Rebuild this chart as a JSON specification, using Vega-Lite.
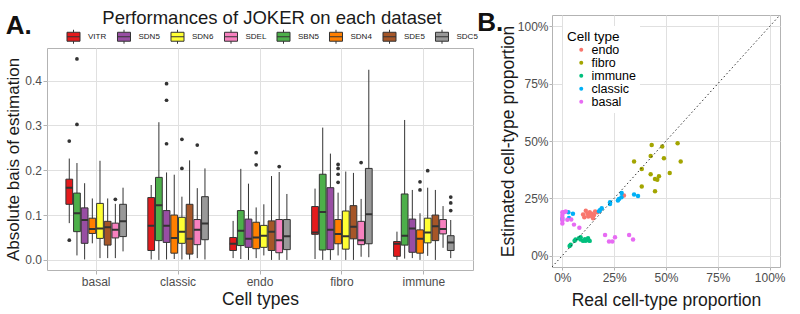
{
  "$schema": "https://vega.github.io/schema/vega-lite/v6.json",
  "padding": {"left": 4, "top": 8, "right": 10, "bottom": 4},
  "spacing": -3,
  "resolve": {"scale": {"color": "independent", "x": "independent", "y": "independent"}, "legend": {"color": "independent"}},
  "config": {
    "font": "Liberation Sans",
    "view": {"stroke": "#b3b3b3", "strokeWidth": 1},
    "axis": {
      "domain": false,
      "gridColor": "#e0e0e0",
      "tickColor": "#b3b3b3",
      "labelColor": "#4d4d4d",
      "labelFont": "Liberation Sans",
      "labelFontSize": 12,
      "titleFont": "Liberation Sans",
      "titleFontSize": 17.5,
      "titleFontWeight": "normal",
      "titleColor": "#1a1a1a"
    },
    "legend": {"labelFont": "Liberation Sans", "titleFont": "Liberation Sans"},
    "title": {"font": "Liberation Sans"}
  },
  "datasets": {
    "boxes": [
      {"cell": "basal", "dataset": "VITR", "lower": 0.082, "q1": 0.124, "median": 0.161, "q3": 0.18, "upper": 0.226},
      {"cell": "basal", "dataset": "SBN5", "lower": 0.01, "q1": 0.063, "median": 0.104, "q3": 0.149, "upper": 0.216},
      {"cell": "basal", "dataset": "SDN5", "lower": 0.001, "q1": 0.037, "median": 0.089, "q3": 0.116, "upper": 0.171},
      {"cell": "basal", "dataset": "SDN4", "lower": 0.037, "q1": 0.059, "median": 0.069, "q3": 0.093, "upper": 0.137},
      {"cell": "basal", "dataset": "SDN6", "lower": 0.004, "q1": 0.048, "median": 0.07, "q3": 0.126, "upper": 0.221},
      {"cell": "basal", "dataset": "SDE5", "lower": 0.004, "q1": 0.033, "median": 0.073, "q3": 0.086, "upper": 0.137},
      {"cell": "basal", "dataset": "SDEL", "lower": 0.004, "q1": 0.049, "median": 0.067, "q3": 0.082, "upper": 0.125},
      {"cell": "basal", "dataset": "SDC5", "lower": 0.019, "q1": 0.052, "median": 0.086, "q3": 0.124, "upper": 0.161},
      {"cell": "classic", "dataset": "VITR", "lower": 0.001, "q1": 0.021, "median": 0.076, "q3": 0.139, "upper": 0.167},
      {"cell": "classic", "dataset": "SBN5", "lower": 0.0, "q1": 0.043, "median": 0.122, "q3": 0.184, "upper": 0.307},
      {"cell": "classic", "dataset": "SDN5", "lower": 0.001, "q1": 0.039, "median": 0.076, "q3": 0.11, "upper": 0.195},
      {"cell": "classic", "dataset": "SDN4", "lower": 0.002, "q1": 0.015, "median": 0.049, "q3": 0.1, "upper": 0.19},
      {"cell": "classic", "dataset": "SDN6", "lower": 0.001, "q1": 0.037, "median": 0.063, "q3": 0.095, "upper": 0.141},
      {"cell": "classic", "dataset": "SDE5", "lower": 0.001, "q1": 0.013, "median": 0.047, "q3": 0.124, "upper": 0.222},
      {"cell": "classic", "dataset": "SDEL", "lower": 0.004, "q1": 0.034, "median": 0.067, "q3": 0.09, "upper": 0.16},
      {"cell": "classic", "dataset": "SDC5", "lower": 0.001, "q1": 0.045, "median": 0.081, "q3": 0.141, "upper": 0.204},
      {"cell": "endo", "dataset": "VITR", "lower": 0.004, "q1": 0.021, "median": 0.036, "q3": 0.05, "upper": 0.087},
      {"cell": "endo", "dataset": "SBN5", "lower": 0.002, "q1": 0.032, "median": 0.065, "q3": 0.11, "upper": 0.203},
      {"cell": "endo", "dataset": "SDN5", "lower": 0.0, "q1": 0.028, "median": 0.047, "q3": 0.091, "upper": 0.17},
      {"cell": "endo", "dataset": "SDN4", "lower": 0.004, "q1": 0.025, "median": 0.05, "q3": 0.084, "upper": 0.117},
      {"cell": "endo", "dataset": "SDN6", "lower": 0.01, "q1": 0.028, "median": 0.054, "q3": 0.077, "upper": 0.124},
      {"cell": "endo", "dataset": "SDE5", "lower": 0.0, "q1": 0.021, "median": 0.063, "q3": 0.087, "upper": 0.187},
      {"cell": "endo", "dataset": "SDEL", "lower": 0.0, "q1": 0.016, "median": 0.044, "q3": 0.09, "upper": 0.196},
      {"cell": "endo", "dataset": "SDC5", "lower": 0.0, "q1": 0.023, "median": 0.053, "q3": 0.09, "upper": 0.147},
      {"cell": "fibro", "dataset": "VITR", "lower": 0.002, "q1": 0.057, "median": 0.061, "q3": 0.119, "upper": 0.159},
      {"cell": "fibro", "dataset": "SBN5", "lower": 0.0, "q1": 0.022, "median": 0.107, "q3": 0.191, "upper": 0.295},
      {"cell": "fibro", "dataset": "SDN5", "lower": 0.0, "q1": 0.023, "median": 0.067, "q3": 0.161, "upper": 0.237},
      {"cell": "fibro", "dataset": "SDN4", "lower": 0.01, "q1": 0.036, "median": 0.058, "q3": 0.09, "upper": 0.15},
      {"cell": "fibro", "dataset": "SDN6", "lower": 0.0, "q1": 0.024, "median": 0.053, "q3": 0.109, "upper": 0.197},
      {"cell": "fibro", "dataset": "SDE5", "lower": 0.0, "q1": 0.047, "median": 0.074, "q3": 0.121, "upper": 0.194},
      {"cell": "fibro", "dataset": "SDEL", "lower": 0.007, "q1": 0.034, "median": 0.044, "q3": 0.086, "upper": 0.136},
      {"cell": "fibro", "dataset": "SDC5", "lower": 0.006, "q1": 0.036, "median": 0.102, "q3": 0.204, "upper": 0.424},
      {"cell": "immune", "dataset": "VITR", "lower": 0.0, "q1": 0.008, "median": 0.036, "q3": 0.041, "upper": 0.063},
      {"cell": "immune", "dataset": "SBN5", "lower": 0.003, "q1": 0.033, "median": 0.054, "q3": 0.147, "upper": 0.312},
      {"cell": "immune", "dataset": "SDN5", "lower": 0.004, "q1": 0.017, "median": 0.07, "q3": 0.091, "upper": 0.156},
      {"cell": "immune", "dataset": "SDN4", "lower": 0.0, "q1": 0.015, "median": 0.047, "q3": 0.067, "upper": 0.104},
      {"cell": "immune", "dataset": "SDN6", "lower": 0.009, "q1": 0.038, "median": 0.061, "q3": 0.093, "upper": 0.161},
      {"cell": "immune", "dataset": "SDE5", "lower": 0.0, "q1": 0.043, "median": 0.075, "q3": 0.1, "upper": 0.156},
      {"cell": "immune", "dataset": "SDEL", "lower": 0.027, "q1": 0.058, "median": 0.069, "q3": 0.09, "upper": 0.12},
      {"cell": "immune", "dataset": "SDC5", "lower": 0.004, "q1": 0.021, "median": 0.039, "q3": 0.054, "upper": 0.089}
    ],
    "outliers": [
      {"cell": "basal", "dataset": "VITR", "value": 0.265},
      {"cell": "basal", "dataset": "VITR", "value": 0.044},
      {"cell": "basal", "dataset": "SBN5", "value": 0.302},
      {"cell": "basal", "dataset": "SBN5", "value": 0.448},
      {"cell": "basal", "dataset": "SDEL", "value": 0.135},
      {"cell": "classic", "dataset": "SDN5", "value": 0.393},
      {"cell": "classic", "dataset": "SDN5", "value": 0.356},
      {"cell": "classic", "dataset": "SDN5", "value": 0.259},
      {"cell": "classic", "dataset": "SDN6", "value": 0.269},
      {"cell": "classic", "dataset": "SDN6", "value": 0.204},
      {"cell": "classic", "dataset": "SDEL", "value": 0.256},
      {"cell": "endo", "dataset": "SDN4", "value": 0.239},
      {"cell": "endo", "dataset": "SDN4", "value": 0.212},
      {"cell": "endo", "dataset": "SDEL", "value": 0.208},
      {"cell": "fibro", "dataset": "SDN4", "value": 0.213},
      {"cell": "fibro", "dataset": "SDN4", "value": 0.204},
      {"cell": "fibro", "dataset": "SDN4", "value": 0.191},
      {"cell": "fibro", "dataset": "SDN4", "value": 0.173},
      {"cell": "fibro", "dataset": "SDEL", "value": 0.217},
      {"cell": "immune", "dataset": "SDN4", "value": 0.174},
      {"cell": "immune", "dataset": "SDN4", "value": 0.156},
      {"cell": "immune", "dataset": "SDN6", "value": 0.199},
      {"cell": "immune", "dataset": "SDC5", "value": 0.14},
      {"cell": "immune", "dataset": "SDC5", "value": 0.127},
      {"cell": "immune", "dataset": "SDC5", "value": 0.11}
    ],
    "props": [
      {"type": "endo", "real": 0.297, "estimated": 0.262},
      {"type": "endo", "real": 0.169, "estimated": 0.189},
      {"type": "endo", "real": 0.158, "estimated": 0.192},
      {"type": "endo", "real": 0.113, "estimated": 0.196},
      {"type": "endo", "real": 0.132, "estimated": 0.189},
      {"type": "endo", "real": 0.141, "estimated": 0.182},
      {"type": "endo", "real": 0.121, "estimated": 0.182},
      {"type": "endo", "real": 0.1, "estimated": 0.179},
      {"type": "endo", "real": 0.153, "estimated": 0.177},
      {"type": "endo", "real": 0.125, "estimated": 0.17},
      {"type": "endo", "real": 0.106, "estimated": 0.167},
      {"type": "endo", "real": 0.148, "estimated": 0.163},
      {"type": "endo", "real": 0.137, "estimated": 0.174},
      {"type": "fibro", "real": 0.431, "estimated": 0.483},
      {"type": "fibro", "real": 0.482, "estimated": 0.476},
      {"type": "fibro", "real": 0.556, "estimated": 0.49},
      {"type": "fibro", "real": 0.426, "estimated": 0.435},
      {"type": "fibro", "real": 0.49, "estimated": 0.425},
      {"type": "fibro", "real": 0.346, "estimated": 0.411},
      {"type": "fibro", "real": 0.571, "estimated": 0.411},
      {"type": "fibro", "real": 0.383, "estimated": 0.378},
      {"type": "fibro", "real": 0.426, "estimated": 0.355},
      {"type": "fibro", "real": 0.466, "estimated": 0.346},
      {"type": "fibro", "real": 0.447, "estimated": 0.334},
      {"type": "fibro", "real": 0.458, "estimated": 0.331},
      {"type": "fibro", "real": 0.518, "estimated": 0.36},
      {"type": "fibro", "real": 0.383, "estimated": 0.301},
      {"type": "fibro", "real": 0.447, "estimated": 0.281},
      {"type": "immune", "real": 0.04, "estimated": 0.047},
      {"type": "immune", "real": 0.035, "estimated": 0.042},
      {"type": "immune", "real": 0.059, "estimated": 0.065},
      {"type": "immune", "real": 0.064, "estimated": 0.07},
      {"type": "immune", "real": 0.088, "estimated": 0.08},
      {"type": "immune", "real": 0.088, "estimated": 0.07},
      {"type": "immune", "real": 0.1, "estimated": 0.064},
      {"type": "immune", "real": 0.113, "estimated": 0.065},
      {"type": "immune", "real": 0.124, "estimated": 0.076},
      {"type": "immune", "real": 0.124, "estimated": 0.068},
      {"type": "immune", "real": 0.132, "estimated": 0.064},
      {"type": "immune", "real": 0.109, "estimated": 0.071},
      {"type": "immune", "real": 0.08, "estimated": 0.076},
      {"type": "classic", "real": 0.286, "estimated": 0.273},
      {"type": "classic", "real": 0.285, "estimated": 0.254},
      {"type": "classic", "real": 0.273, "estimated": 0.247},
      {"type": "classic", "real": 0.268, "estimated": 0.24},
      {"type": "classic", "real": 0.346, "estimated": 0.266},
      {"type": "classic", "real": 0.365, "estimated": 0.26},
      {"type": "classic", "real": 0.23, "estimated": 0.233},
      {"type": "classic", "real": 0.23, "estimated": 0.225},
      {"type": "classic", "real": 0.19, "estimated": 0.206},
      {"type": "classic", "real": 0.182, "estimated": 0.199},
      {"type": "classic", "real": 0.177, "estimated": 0.193},
      {"type": "classic", "real": 0.029, "estimated": 0.189},
      {"type": "classic", "real": 0.051, "estimated": 0.182},
      {"type": "classic", "real": 0.032, "estimated": 0.164},
      {"type": "classic", "real": 0.0, "estimated": 0.16},
      {"type": "basal", "real": 0.0, "estimated": 0.189},
      {"type": "basal", "real": 0.008, "estimated": 0.189},
      {"type": "basal", "real": 0.0, "estimated": 0.177},
      {"type": "basal", "real": 0.0, "estimated": 0.167},
      {"type": "basal", "real": 0.0, "estimated": 0.153},
      {"type": "basal", "real": 0.0, "estimated": 0.14},
      {"type": "basal", "real": 0.016, "estimated": 0.192},
      {"type": "basal", "real": 0.024, "estimated": 0.156},
      {"type": "basal", "real": 0.043, "estimated": 0.157},
      {"type": "basal", "real": 0.056, "estimated": 0.135},
      {"type": "basal", "real": 0.082, "estimated": 0.121},
      {"type": "basal", "real": 0.206, "estimated": 0.09},
      {"type": "basal", "real": 0.225, "estimated": 0.061},
      {"type": "basal", "real": 0.241, "estimated": 0.061},
      {"type": "basal", "real": 0.254, "estimated": 0.08},
      {"type": "basal", "real": 0.322, "estimated": 0.09},
      {"type": "basal", "real": 0.341, "estimated": 0.07}
    ],
    "diag": [{"x": -0.05, "y": -0.05, "x2": 1.05, "y2": 1.05}],
    "blank": []
  },
  "hconcat": [
    {
      "spacing": -9,
      "resolve": {"scale": {"color": "independent"}, "legend": {"color": "independent"}},
      "vconcat": [
        {
          "width": 1,
          "height": 1,
          "data": {"name": "blank"},
          "mark": {"type": "point"},
          "view": {"stroke": "transparent"}
        },
        {
          "width": 426,
          "height": 222,
          "title": {"text": "A.", "anchor": "start", "frame": "bounds", "offset": -30, "dx": 1, "fontSize": 26, "fontWeight": "bold", "color": "#111111"},
          "encoding": {
            "x": {
              "field": "cell", "type": "nominal", "title": "Cell types",
              "scale": {"domain": ["basal", "classic", "endo", "fibro", "immune"], "paddingInner": 0.25, "paddingOuter": 0.225},
              "axis": {"labelAngle": 0, "bandPosition": 0.5, "grid": true, "gridWidth": 1, "tickSize": 4, "labelPadding": 2, "titlePadding": 3}
            },
            "xOffset": {
              "field": "dataset", "type": "nominal",
              "scale": {"domain": ["VITR", "SBN5", "SDN5", "SDN4", "SDN6", "SDE5", "SDEL", "SDC5"], "paddingInner": 0.12, "paddingOuter": 0.06}
            }
          },
          "layer": [
            {
              "data": {"name": "boxes"},
              "mark": {"type": "rule", "color": "#333333", "strokeWidth": 1},
              "encoding": {
                "y": {
                  "field": "lower", "type": "quantitative", "title": "Absolute bais of estimation",
                  "scale": {"domain": [-0.0225, 0.4725], "nice": false, "zero": false},
                  "axis": {
                    "values": [0, 0.05, 0.1, 0.15, 0.2, 0.25, 0.3, 0.35, 0.4, 0.45],
                    "labelExpr": "round(datum.value * 100) % 10 == 0 ? format(datum.value, '.1f') : ''",
                    "gridWidth": {"condition": {"test": "round(datum.value * 100) % 10 == 0", "value": 1}, "value": 0.5},
                    "tickOpacity": {"condition": {"test": "round(datum.value * 100) % 10 == 0", "value": 1}, "value": 0},
                    "tickSize": 4, "labelPadding": 1.5, "titlePadding": 2, "titleFontSize": 17
                  }
                },
                "y2": {"field": "upper"}
              }
            },
            {
              "data": {"name": "boxes"},
              "mark": {"type": "bar", "stroke": "#333333", "strokeWidth": 1},
              "encoding": {
                "y": {"field": "q1", "type": "quantitative", "title": "Absolute bais of estimation"},
                "y2": {"field": "q3"},
                "color": {
                  "field": "dataset", "type": "nominal",
                  "scale": {
                    "domain": ["VITR", "SDN5", "SDN6", "SDEL", "SBN5", "SDN4", "SDE5", "SDC5"],
                    "range": ["#E41A1C", "#984EA3", "#FFFF33", "#F781BF", "#4DAF4A", "#FF7F00", "#A65628", "#999999"]
                  },
                  "legend": {
                    "orient": "none", "legendX": 19, "legendY": -39, "direction": "horizontal",
                    "title": "Performances of JOKER on each dataset",
                    "titleOrient": "top", "titleAnchor": "middle", "titleFontSize": 18.5, "titleFontWeight": "normal",
                    "titleColor": "#1a1a1a", "titlePadding": 1.5, "titleLimit": 600,
                    "labelFontSize": 8, "labelColor": "#1a1a1a", "labelOffset": 7, "columnPadding": 7.5,
                    "symbolType": "M-0.93,-0.64H0.93V0.64H-0.93Z M-0.93,0H0.93 M0,-0.64V-1 M0,0.64V1",
                    "symbolSize": 196, "symbolStrokeColor": "#333333", "symbolStrokeWidth": 1, "padding": 0
                  }
                }
              }
            },
            {
              "data": {"name": "boxes"},
              "mark": {"type": "bar", "fill": "transparent", "stroke": "#333333", "strokeWidth": 2},
              "encoding": {
                "y": {"field": "median", "type": "quantitative", "title": "Absolute bais of estimation"},
                "y2": {"field": "median"}
              }
            },
            {
              "data": {"name": "outliers"},
              "mark": {"type": "point", "filled": true, "color": "#333333", "size": 14, "opacity": 1},
              "encoding": {
                "y": {"field": "value", "type": "quantitative", "title": "Absolute bais of estimation"}
              }
            }
          ]
        }
      ]
    },
    {
      "width": 228,
      "height": 252,
      "title": {"text": "B.", "anchor": "start", "frame": "bounds", "offset": -21, "dx": -22, "fontSize": 26, "fontWeight": "bold", "color": "#111111"},
      "layer": [
        {
          "data": {"name": "props"},
          "mark": {"type": "circle", "size": 20, "opacity": 1},
          "encoding": {
            "x": {
              "field": "real", "type": "quantitative", "title": "Real cell-type proportion",
              "scale": {"domain": [-0.05, 1.05], "nice": false, "zero": false},
              "axis": {
                "values": [0, 0.125, 0.25, 0.375, 0.5, 0.625, 0.75, 0.875, 1],
                "labelExpr": "round(datum.value * 1000) % 250 == 0 ? format(datum.value, '.0%') : ''",
                "gridWidth": {"condition": {"test": "round(datum.value * 1000) % 250 == 0", "value": 1}, "value": 0.5},
                "tickOpacity": {"condition": {"test": "round(datum.value * 1000) % 250 == 0", "value": 1}, "value": 0},
                "tickSize": 3, "labelPadding": 2, "titlePadding": 8
              }
            },
            "y": {
              "field": "estimated", "type": "quantitative", "title": "Estimated cell-type proportion",
              "scale": {"domain": [-0.05, 1.05], "nice": false, "zero": false},
              "axis": {
                "values": [0, 0.125, 0.25, 0.375, 0.5, 0.625, 0.75, 0.875, 1],
                "labelExpr": "round(datum.value * 1000) % 250 == 0 ? format(datum.value, '.0%') : ''",
                "gridWidth": {"condition": {"test": "round(datum.value * 1000) % 250 == 0", "value": 1}, "value": 0.5},
                "tickOpacity": {"condition": {"test": "round(datum.value * 1000) % 250 == 0", "value": 1}, "value": 0},
                "tickSize": 3, "labelPadding": 1, "titlePadding": 0
              }
            },
            "color": {
              "field": "type", "type": "nominal",
              "scale": {"domain": ["endo", "fibro", "immune", "classic", "basal"], "range": ["#F8766D", "#A3A500", "#00BF7D", "#00B0F6", "#E76BF3"]},
              "legend": {
                "orient": "top-left", "offset": 11, "padding": 4, "fillColor": "#ffffff",
                "title": "Cell type", "titleFontSize": 13.5, "titleFontWeight": "normal", "titleColor": "#000000", "titlePadding": 0,
                "labelFontSize": 12.5, "labelColor": "#000000", "symbolType": "circle", "symbolSize": 16,
                "symbolOffset": 8, "labelOffset": 4, "rowPadding": 0
              }
            }
          }
        },
        {
          "data": {"name": "diag"},
          "mark": {"type": "rule", "color": "#333333", "strokeWidth": 1, "strokeDash": [1.5, 2.5], "clip": true},
          "encoding": {
            "x": {"field": "x", "type": "quantitative"},
            "y": {"field": "y", "type": "quantitative"},
            "x2": {"field": "x2"},
            "y2": {"field": "y2"}
          }
        }
      ]
    }
  ]
}
